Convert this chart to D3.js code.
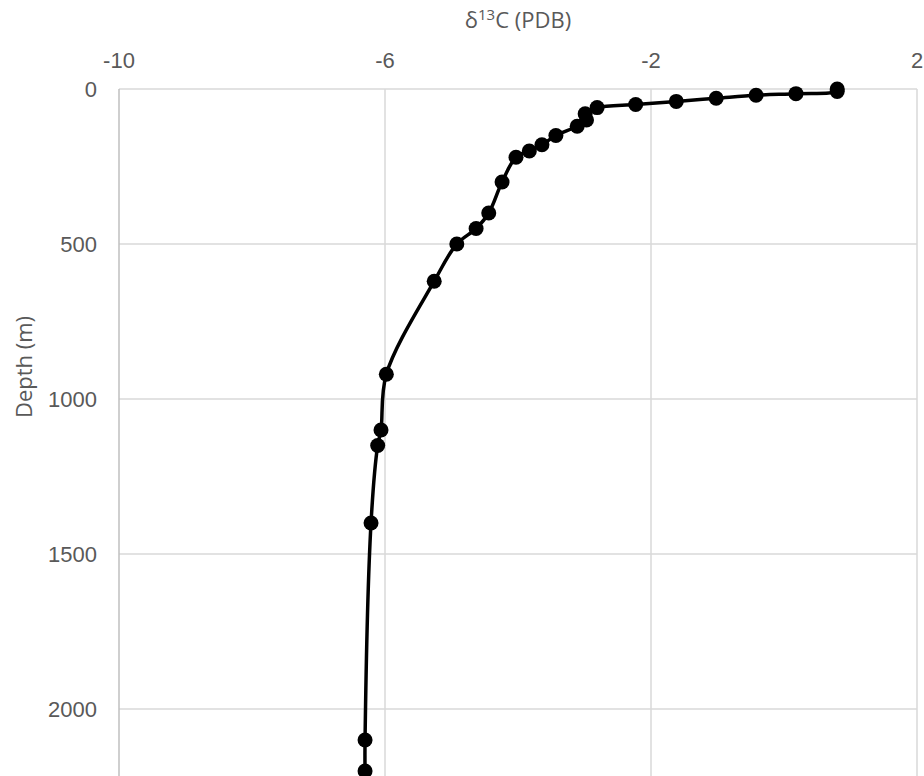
<!DOCTYPE html>
<html>
<head>
<meta charset="utf-8">
<script src="https://cdn.jsdelivr.net/npm/d3@7"></script>
<style>
    body { margin: 0; background: #fff; }
    svg { display: block; }
</style>
</head>
<body>
<div id="chart"></div>
<script>
// d13C profile vs depth
const d13c  = [0.8, 0.8, 0.18, -0.42, -1.02, -1.62, -2.23, -2.81, -2.99, -2.97, -3.11, -3.43, -3.64, -3.83, -4.03, -4.24, -4.44, -4.63, -4.92, -5.26, -5.98, -6.06, -6.11, -6.21, -6.30, -6.30];
const depth = [0, 8, 15, 20, 30, 40, 50, 60, 80, 100, 120, 150, 180, 200, 220, 300, 400, 450, 500, 620, 920, 1100, 1150, 1400, 2100, 2200];
const xTicks = [-10, -6, -2, 2];
const yTicks = [0, 500, 1000, 1500, 2000];

const W = 924, H = 776;
const plotLeft = 119, plotRight = 917, plotTop = 89;

const svg = d3.select("#chart").append("svg")
    .attr("width", W).attr("height", H);

const x = d3.scaleLinear().domain([-10, 2]).range([plotLeft, plotRight]);
// plot continues below the window, 155px per 500 m
const y = d3.scaleLinear().domain([0, 2500]).range([plotTop, plotTop + 775]);

// gridlines
svg.append("g").selectAll("line")
    .data(xTicks.slice(1))
    .enter().append("line")
    .attr("x1", d => x(d)).attr("x2", d => x(d))
    .attr("y1", plotTop).attr("y2", H)
    .attr("stroke", "#d9d9d9").attr("stroke-width", 1.5);

svg.append("g").selectAll("line")
    .data(yTicks)
    .enter().append("line")
    .attr("x1", plotLeft).attr("x2", plotRight)
    .attr("y1", d => y(d)).attr("y2", d => y(d))
    .attr("stroke", "#d9d9d9").attr("stroke-width", 1.5);

// left axis line
svg.append("line")
    .attr("x1", plotLeft).attr("x2", plotLeft)
    .attr("y1", plotTop).attr("y2", H)
    .attr("stroke", "#bfbfbf").attr("stroke-width", 1.5);

// tick labels
svg.append("g").selectAll("text")
    .data(xTicks)
    .enter().append("text")
    .attr("x", d => x(d)).attr("y", 68)
    .attr("text-anchor", "middle")
    .attr("font-family", "Liberation Sans, Arial, sans-serif")
    .attr("font-size", 22).attr("fill", "#595959")
    .text(d => d);

svg.append("g").selectAll("text")
    .data(yTicks)
    .enter().append("text")
    .attr("x", 97).attr("y", d => y(d) + 8)
    .attr("text-anchor", "end")
    .attr("font-family", "Liberation Sans, Arial, sans-serif")
    .attr("font-size", 22).attr("fill", "#595959")
    .text(d => d);

// axis titles
const title = svg.append("text")
    .attr("x", (plotLeft + plotRight) / 2).attr("y", 28)
    .attr("text-anchor", "middle")
    .attr("font-family", "Open Sans, Noto Sans, sans-serif")
    .attr("font-size", 22).attr("fill", "#595959");
title.append("tspan").text("δ");
title.append("tspan").attr("font-size", 15).attr("dy", -8).text("13");
title.append("tspan").attr("dy", 8).text("C (PDB)");

svg.append("text")
    .attr("transform", `translate(32,${y(1000) - 32}) rotate(-90)`)
    .attr("text-anchor", "middle")
    .attr("font-family", "Open Sans, Noto Sans, sans-serif")
    .attr("font-size", 22).attr("fill", "#595959")
    .text("Depth (m)");

// series
const pts = depth.map((d, i) => [d13c[i], d]);

const line = d3.line()
    .x(d => x(d[0])).y(d => y(d[1]))
    .curve(d3.curveCatmullRom.alpha(0.5));

svg.append("path")
    .datum(pts)
    .attr("d", line)
    .attr("fill", "none")
    .attr("stroke", "#000")
    .attr("stroke-width", 3.5);

svg.append("g").selectAll("circle")
    .data(pts)
    .enter().append("circle")
    .attr("cx", d => x(d[0])).attr("cy", d => y(d[1]))
    .attr("r", 7.5)
    .attr("fill", "#000");
</script>
</body>
</html>
